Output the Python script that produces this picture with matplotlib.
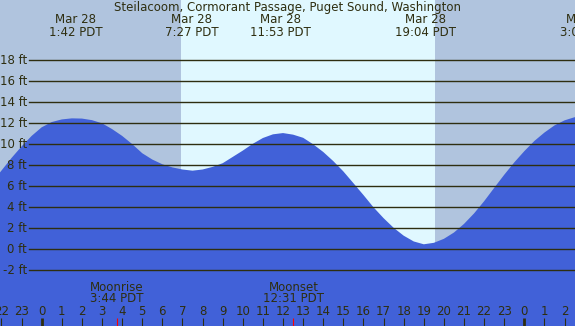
import matplotlib
matplotlib.use("Agg")
import matplotlib.pyplot as plt

# half-hourly tide heights (ft), hours relative to Mar 28 00:00 PDT
hours = [h / 2 for h in range(-6, 55)]
tide_ft = [5.0, 6.3, 7.5, 8.7, 9.8, 10.8, 11.62, 12.12, 12.37, 12.47,
           12.45, 12.3, 12.0, 11.45, 10.8, 10.02, 9.15, 8.55, 8.1, 7.8,
           7.6, 7.49, 7.6, 7.85, 8.2, 8.8, 9.4, 10.05, 10.6, 10.95,
           11.07, 10.92, 10.62, 10.0, 9.27, 8.4, 7.42, 6.3, 5.17, 4.0,
           2.97, 2.05, 1.3, 0.75, 0.48, 0.62, 1.0, 1.6, 2.42, 3.42,
           4.58, 5.85, 7.1, 8.28, 9.35, 10.32, 11.12, 11.8, 12.28, 12.58,
           12.7]

# high / low tide labels along the top
extreme_hours = [1.70, 7.45, 11.883, 19.067, 27.08]
extreme_dates = ["Mar 28", "Mar 28", "Mar 28", "Mar 28", "Mar 29"]
extreme_times = ["1:42 PDT", "7:27 PDT", "11:53 PDT", "19:04 PDT", "3:05 PDT"]

sunrise = 6.93
sunset = 19.56

moon_hours = [3.733, 12.517]
moon_names = ["Moonrise", "Moonset"]
moon_times = ["3:44 PDT", "12:31 PDT"]

levels = list(range(-2, 20, 2))
tick_hours = list(range(-2, 28))

title = "Steilacoom, Cormorant Passage, Puget Sound, Washington"

night_color = "#B0C4DE"
day_color = "#E0F8FF"
water_color = "#4161D8"
ink = "#2e2e10"
fs = 8.5

fig = plt.figure(figsize=(5.75, 3.26), dpi=100)
ax = fig.add_axes([0, 0, 1, 1])
ax.set_xlim(-2.0736, 26.519)
ax.set_ylim(-7.30, 23.74)
ax.axis("off")
fig.patch.set_facecolor(night_color)

ax.axvspan(sunrise, sunset, color=day_color, zorder=1, lw=0)
ax.fill_between(hours, tide_ft, -20, color=water_color, lw=0, zorder=2)

for lv in levels:
    ax.axhline(lv, xmin=0.051, xmax=1, color=ink, lw=1.0, zorder=3)
    ax.text(0.047, lv, f"{lv} ft", transform=ax.get_yaxis_transform(),
            ha="right", va="center", fontsize=fs, color=ink, zorder=4)

xt = ax.get_xaxis_transform()
for h in tick_hours:
    lw = 2.0 if h % 24 == 0 else 0.8
    ax.vlines(h, 0, 0.025, transform=xt, color=ink, lw=lw, zorder=3)
    ax.text(h, 0.044, str(h % 24), transform=xt, ha="center", va="center",
            fontsize=fs, color=ink, zorder=4)

for h, name, t in zip(moon_hours, moon_names, moon_times):
    ax.vlines(h, 0, 0.025, transform=xt, color="red", lw=0.8, zorder=3)
    ax.text(h, 0.1196, name, transform=xt, ha="center", va="center",
            fontsize=fs, color=ink, zorder=4)
    ax.text(h, 0.083, t, transform=xt, ha="center", va="center",
            fontsize=fs, color=ink, zorder=4)

for h, d, t in zip(extreme_hours, extreme_dates, extreme_times):
    ax.text(h, 0.9387, d, transform=xt, ha="center", va="center",
            fontsize=fs, color=ink, zorder=4)
    ax.text(h, 0.9018, t, transform=xt, ha="center", va="center",
            fontsize=fs, color=ink, zorder=4)

ax.text(0.5, 0.9776, title, transform=ax.transAxes, ha="center",
        va="center", fontsize=fs, color=ink, zorder=4)

fig.savefig("out.png", dpi=100, facecolor=night_color)
